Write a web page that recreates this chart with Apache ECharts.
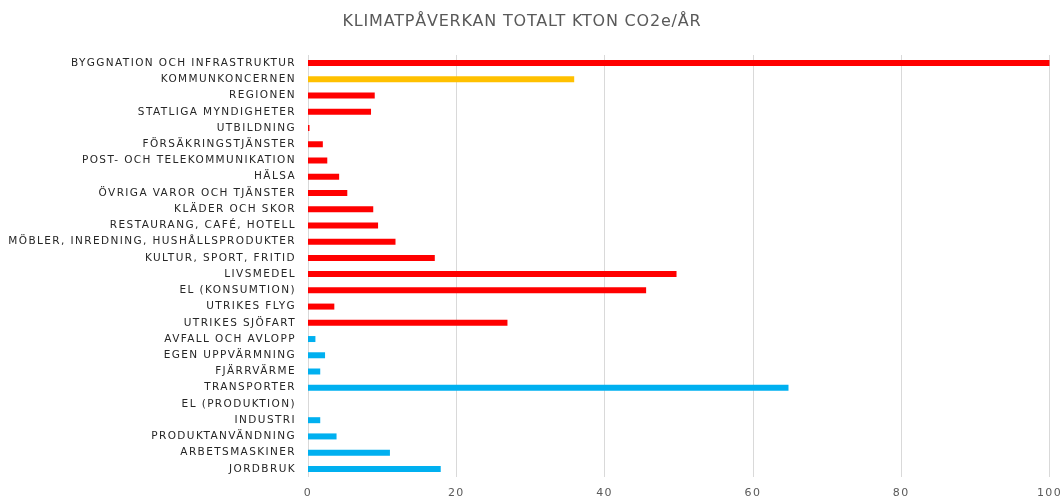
<!DOCTYPE html>
<html>
<head>
<meta charset="utf-8">
<script src="https://cdn.jsdelivr.net/npm/echarts@6/dist/echarts.min.js"></script>
<style>
  html, body { margin: 0; padding: 0; background: #fff; }
  #chart { width: 1063px; height: 499px; }
</style>
</head>
<body>
<div id="chart"></div>
<script>
// categories, top to bottom
var categories = [
  'BYGGNATION OCH INFRASTRUKTUR', 'KOMMUNKONCERNEN', 'REGIONEN', 'STATLIGA MYNDIGHETER',
  'UTBILDNING', 'FÖRSÄKRINGSTJÄNSTER', 'POST- OCH TELEKOMMUNIKATION', 'HÄLSA',
  'ÖVRIGA VAROR OCH TJÄNSTER', 'KLÄDER OCH SKOR', 'RESTAURANG, CAFÉ, HOTELL',
  'MÖBLER, INREDNING, HUSHÅLLSPRODUKTER', 'KULTUR, SPORT, FRITID', 'LIVSMEDEL',
  'EL (KONSUMTION)', 'UTRIKES FLYG', 'UTRIKES SJÖFART', 'AVFALL OCH AVLOPP',
  'EGEN UPPVÄRMNING', 'FJÄRRVÄRME', 'TRANSPORTER', 'EL (PRODUKTION)', 'INDUSTRI',
  'PRODUKTANVÄNDNING', 'ARBETSMASKINER', 'JORDBRUK'
];
var values = [
  100, 35.9, 9.0, 8.5,
  0.2, 2.0, 2.6, 4.2,
  5.3, 8.8, 9.45,
  11.8, 17.1, 49.7,
  45.6, 3.55, 26.9, 1.0,
  2.3, 1.65, 64.8, 0, 1.65,
  3.85, 11.05, 17.9
];
// which group each bar belongs to
var groups = [
  'konsumtion', 'kommun', 'konsumtion', 'konsumtion',
  'konsumtion', 'konsumtion', 'konsumtion', 'konsumtion',
  'konsumtion', 'konsumtion', 'konsumtion',
  'konsumtion', 'konsumtion', 'konsumtion',
  'konsumtion', 'konsumtion', 'konsumtion', 'territoriell',
  'territoriell', 'territoriell', 'territoriell', 'territoriell', 'territoriell',
  'territoriell', 'territoriell', 'territoriell'
];
var xTicks = [0, 20, 40, 60, 80, 100];

var groupColor = { konsumtion: '#ff0000', kommun: '#ffc000', territoriell: '#00b0f0' };

// office-style letter spacing on all drawn text
var origFill = CanvasRenderingContext2D.prototype.fillText;
CanvasRenderingContext2D.prototype.fillText = function () {
  var prev = this.letterSpacing;
  this.letterSpacing = /16px/.test(this.font) ? '0.8px' : '1.4px';
  origFill.apply(this, arguments);
  this.letterSpacing = prev;
};

var myChart = echarts.init(document.getElementById('chart'));
myChart.setOption({
  animation: false,
  title: {
    text: 'KLIMATPÅVERKAN TOTALT KTON CO2e/ÅR',
    left: 517,
    textAlign: 'center',
    top: 9,
    textStyle: { fontFamily: 'DejaVu Sans', fontSize: 16, fontWeight: 'normal', color: '#595959' }
  },
  grid: { left: 308, right: 11, top: 55, bottom: 22, containLabel: false },
  xAxis: {
    type: 'value',
    min: xTicks[0],
    max: xTicks[xTicks.length - 1],
    interval: 20,
    axisLine: { show: false },
    axisTick: { show: false },
    axisLabel: { color: '#595959', fontFamily: 'DejaVu Sans', fontSize: 11, margin: 11 },
    splitLine: { show: true, lineStyle: { color: '#d9d9d9', width: 1 } }
  },
  yAxis: {
    type: 'category',
    inverse: true,
    data: categories,
    axisLine: { show: false },
    axisTick: { show: false },
    axisLabel: { color: '#262626', fontFamily: 'DejaVu Sans', fontSize: 10.5, margin: 12 }
  },
  series: [{
    type: 'bar',
    data: values,
    barWidth: 6,
    itemStyle: {
      color: function (p) { return groupColor[groups[p.dataIndex]]; }
    }
  }]
});
</script>
</body>
</html>
